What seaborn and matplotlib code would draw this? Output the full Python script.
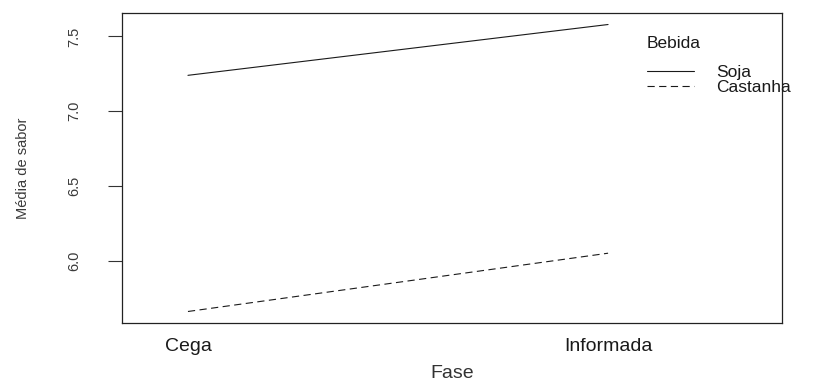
import matplotlib
matplotlib.use("Agg")
import matplotlib.pyplot as plt
import seaborn as sns
import pandas as pd
from matplotlib.lines import Line2D

# Mean flavour score per tasting phase and drink
fases = ["Cega", "Informada"]
bebidas = ["Soja", "Castanha"]
media_soja = [7.24, 7.58]
media_castanha = [5.66, 6.05]

df = pd.DataFrame({
    "Fase": fases * 2,
    "Bebida": [bebidas[0]] * 2 + [bebidas[1]] * 2,
    "Media": media_soja + media_castanha,
})

sns.set_theme(style="white")
plt.rcParams["font.family"] = ["Liberation Sans", "DejaVu Sans"]

W, H = 816, 385
fig = plt.figure(figsize=(W / 100, H / 100), dpi=100)
ax = fig.add_axes([122 / W, 1 - 323 / H, 660 / W, 310 / H])

ink = "#1a1a1a"
line_dashes = {"Soja": "", "Castanha": (6.5, 4)}
sns.lineplot(data=df, x="Fase", y="Media", style="Bebida", dashes=line_dashes,
             color=ink, linewidth=0.8, legend=False, ax=ax, sort=False)

ax.set_xlim(-0.157, 1.414)
ax.set_ylim(5.583, 7.657)
ax.set_yticks([6.0, 6.5, 7.0, 7.5])
ax.set_yticklabels(["6.0", "6.5", "7.0", "7.5"], rotation=90, va="center",
                   fontsize=10.5, color="#3a3a3a")
ax.set_xticks([0, 1])
ax.set_xticklabels(fases, fontsize=14, color=ink)
ax.tick_params(axis="y", left=True, length=10, width=0.8, color="#333333", pad=19)
ax.tick_params(axis="x", bottom=False, length=0, pad=11)

ax.set_xlabel("Fase", fontsize=14, color="#333333")
ax.xaxis.label.set_va("center")
ax.xaxis.set_label_coords(0.5, -(373 - 323) / 310)
ax.set_ylabel("Média de sabor", fontsize=10.5, color="#3a3a3a")
ax.yaxis.label.set_va("center")
ax.yaxis.set_label_coords((23 - 122) / 660, 0.5)

for s in ax.spines.values():
    s.set_visible(True)
    s.set_color("#222222")
    s.set_linewidth(0.9)

handles = [
    Line2D([], [], color=ink, linewidth=0.8),
    Line2D([], [], color=ink, linewidth=0.8, dashes=(6.5, 4)),
]
leg = fig.legend(handles, bebidas, title="Bebida", loc="upper left",
                 bbox_to_anchor=(647 / W, 1 - 36 / H), frameon=False,
                 fontsize=12.5, title_fontsize=12.5, handlelength=2.7,
                 handletextpad=1.3, borderpad=0, borderaxespad=0,
                 labelspacing=0.0)
leg._legend_box.align = "left"
leg._legend_box.sep = 10
for t in leg.get_texts():
    t.set_color(ink)
leg.get_title().set_color(ink)

fig.savefig("out.png", dpi=100)
